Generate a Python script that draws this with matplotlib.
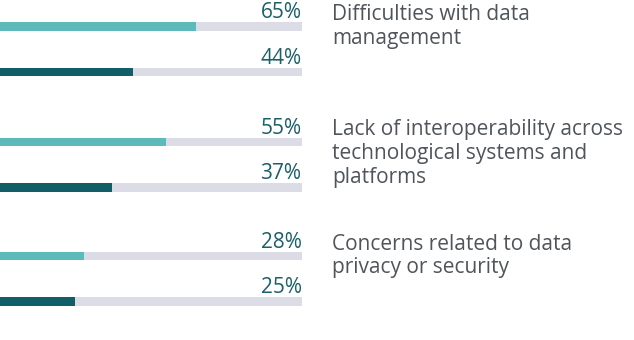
import matplotlib
matplotlib.use("Agg")
import matplotlib.pyplot as plt

categories = [
    "Difficulties with data\nmanagement",
    "Lack of interoperability across\ntechnological systems and\nplatforms",
    "Concerns related to data\nprivacy or security",
]
series_a = [65, 55, 28]   # light teal bars
series_b = [44, 37, 25]   # dark teal bars

LIGHT = "#5dbaba"
DARK = "#125e68"
TRACK = "#dcdce6"
PCT_COLOR = "#1a5f69"
LABEL_COLOR = "#50555b"

plt.rcParams["font.family"] = ["Open Sans", "DejaVu Sans"]

W, H = 634, 340
fig = plt.figure(figsize=(W / 100, H / 100), dpi=100, facecolor="white")
# bar area spans the left ~301 px; y runs in pixel rows from the top
ax = fig.add_axes([0, 0, 301.5 / W, 1])
ax.set_xlim(0, 100)
ax.set_ylim(H, 0)
ax.axis("off")

group_top = [26.7, 142.0, 256.0]
pair_gap = 45.5
bar_h = 8.5
label_x = 332 / 301.5 * 100

for i, cat in enumerate(categories):
    y1 = group_top[i]
    y2 = y1 + pair_gap
    for y, v, c in [(y1, series_a[i], LIGHT), (y2, series_b[i], DARK)]:
        ax.barh(y, 100, height=bar_h, color=TRACK, left=0)
        ax.barh(y, v, height=bar_h, color=c, left=0)
        ax.text(100, y - bar_h / 2 - 4, f"{v}%", ha="right", va="baseline",
                fontsize=15, color=PCT_COLOR, clip_on=False)
    ax.text(label_x, y1 - 22.5, cat, ha="left", va="top", fontsize=15,
            color=LABEL_COLOR, linespacing=1.16, clip_on=False)

fig.savefig("out.png", dpi=100, facecolor="white")
